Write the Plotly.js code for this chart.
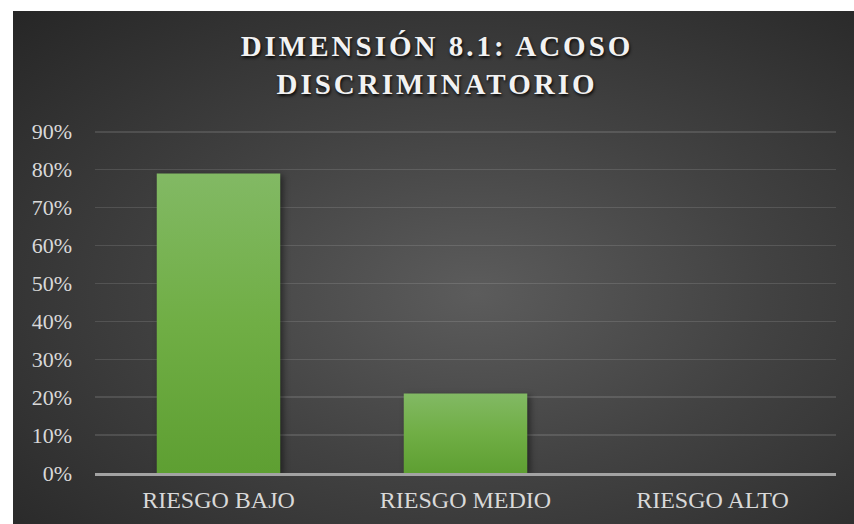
<!DOCTYPE html>
<html><head><meta charset="utf-8">
<script src="https://cdn.plot.ly/plotly-3.0.1.min.js"></script>
<style>
html,body{margin:0;padding:0;background:#ffffff;overflow:hidden;}
#bg{position:absolute;left:13px;top:11px;width:841px;height:513px;
background:radial-gradient(ellipse farthest-corner at 55% 55%, #5c5c5c 0%, #424242 45%, #262626 100%);}
#chart{position:absolute;left:0;top:0;width:854px;height:524px;}
#chart .gtitle{letter-spacing:3px;}
</style></head><body>
<div id="bg"></div><div id="chart"></div>
<script>
const categories = ['RIESGO BAJO', 'RIESGO MEDIO', 'RIESGO ALTO'];
const values = [0.79, 0.21, 0.0];
const yTickValues = [0, 0.1, 0.2, 0.3, 0.4, 0.5, 0.6, 0.7, 0.8, 0.9];
const yTickLabels = ['0%', '10%', '20%', '30%', '40%', '50%', '60%', '70%', '80%', '90%'];
const titleText = 'DIMENSIÓN 8.1: ACOSO<br>DISCRIMINATORIO';

const trace = {
  type: 'bar',
  x: categories,
  y: values,
  marker: {color: '#70ac47', line: {width: 0}},
  hoverinfo: 'none'
};

const layout = {
  width: 854, height: 524,
  paper_bgcolor: 'rgba(0,0,0,0)',
  plot_bgcolor: 'rgba(0,0,0,0)',
  margin: {l: 95, r: 18, t: 128, b: 51, pad: 0},
  bargap: 0.5,
  showlegend: false,
  title: {
    text: titleText,
    xref: 'container', yref: 'container',
    x: 437/854, xanchor: 'center',
    y: 1 - 56/524, yanchor: 'top',
    font: {family: '"Liberation Serif", "Times New Roman", serif', size: 29, color: '#f2f2f2', weight: 'bold',
           shadow: '1px 2px 3px rgba(0,0,0,0.85)'}
  },
  xaxis: {
    type: 'category',
    showgrid: false, zeroline: false,
    showline: true, linecolor: '#a3a3a3', linewidth: 2.5,
    ticks: '', ticklabelstandoff: 4,
    tickfont: {family: '"Liberation Serif", "Times New Roman", serif', size: 24, color: '#d9d9d9'}
  },
  yaxis: {
    range: [0, 0.91],
    tickvals: yTickValues, ticktext: yTickLabels,
    showgrid: true, gridcolor: 'rgba(255,255,255,0.12)', gridwidth: 1.5,
    zeroline: false,
    showline: false, ticks: '', ticklabelstandoff: 22,
    tickfont: {family: '"Liberation Serif", "Times New Roman", serif', size: 22, color: '#d9d9d9'}
  }
};

Plotly.newPlot('chart', [trace], layout, {staticPlot: true, displayModeBar: false}).then(function(gd){
  const svg = gd.querySelector('svg.main-svg');
  const ns = 'http://www.w3.org/2000/svg';
  let defs = svg.querySelector('defs');
  if (!defs) { defs = document.createElementNS(ns, 'defs'); svg.insertBefore(defs, svg.firstChild); }
  const lg = document.createElementNS(ns, 'linearGradient');
  lg.setAttribute('id', 'barGrad');
  lg.setAttribute('x1', '0'); lg.setAttribute('y1', '0');
  lg.setAttribute('x2', '0'); lg.setAttribute('y2', '1');
  [['0%', '#82b964'], ['50%', '#70ae45'], ['100%', '#5e9f32']].forEach(function(s){
    const st = document.createElementNS(ns, 'stop');
    st.setAttribute('offset', s[0]); st.setAttribute('stop-color', s[1]);
    lg.appendChild(st);
  });
  defs.appendChild(lg);
  gd.querySelectorAll('.barlayer .point path').forEach(function(p){
    p.style.fill = 'url(#barGrad)';
    p.style.filter = 'drop-shadow(3px 2px 3px rgba(0,0,0,0.45))';
  });
});
</script>
</body></html>
